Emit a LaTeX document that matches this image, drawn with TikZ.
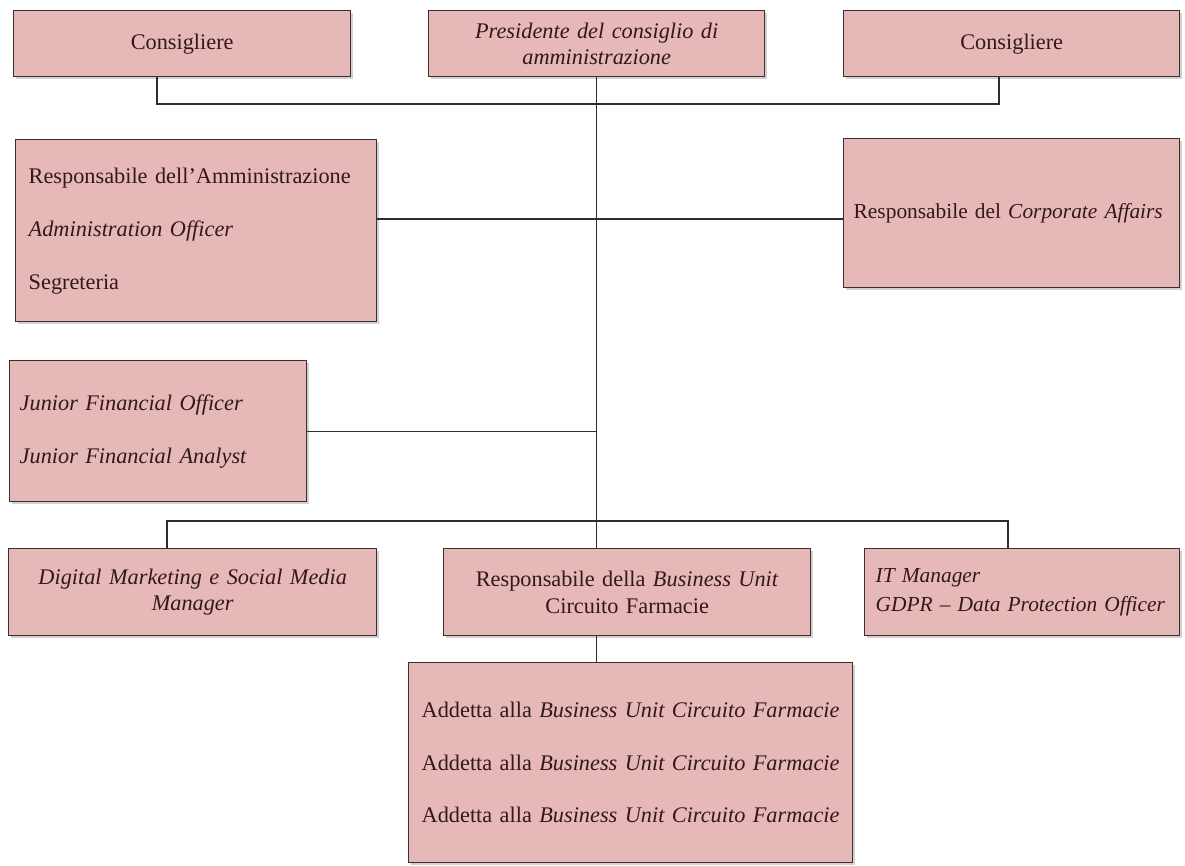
\documentclass[tikz,border=0pt]{standalone}
\usepackage{fontspec}
\setmainfont{Liberation Serif}
\usetikzlibrary{shadows,calc}
\definecolor{boxfill}{HTML}{E6B9B8}
\definecolor{boxline}{HTML}{3A3030}
\definecolor{txtcol}{HTML}{331818}
\definecolor{conncol}{HTML}{2E2E2E}
\begin{document}
\begin{tikzpicture}[x=1pt,y=-1pt,
  orgbox/.style={draw=boxline, fill=boxfill, line width=1.4pt, inner sep=0pt,
    text=txtcol, font=\fontsize{22.3}{26.5}\selectfont, anchor=north west,
    drop shadow={shadow xshift=2pt, shadow yshift=-2.5pt, opacity=0.3, fill=black!60}},
  ctext/.style={align=center},
  ltext/.style={align=left},
  conn/.style={draw=conncol, line width=1.3pt}
]
\useasboundingbox (0,0) rectangle (1185,865);

% top row
\node[orgbox, ctext, minimum width=337pt, minimum height=66pt, text width=337pt] (c1) at (13,10) {Consigliere};
\node[orgbox, ctext, minimum width=336pt, minimum height=66pt, text width=336pt] (pres) at (428,10) {\mbox{\textit{Presidente del consiglio di}}\\\textit{amministrazione}};
\node[orgbox, ctext, minimum width=336pt, minimum height=66pt, text width=336pt] (c2) at (843,10) {Consigliere};

% second row
\node[orgbox, ltext, minimum width=361pt, minimum height=182pt, inner xsep=13pt, text width=335pt] (amm) at (15,139)
  {\mbox{Responsabile dell’Amministrazione}\\[26.5pt]\mbox{\textit{Administration Officer}}\\[26.5pt]Segreteria};
\node[orgbox, ltext, minimum width=336pt, minimum height=149pt, inner xsep=10pt, text width=316pt,
  font=\fontsize{21.4}{26}\selectfont] (corp) at (843,138)
  {\mbox{Responsabile del \textit{Corporate Affairs}}};

% third row
\node[orgbox, ltext, minimum width=297pt, minimum height=141pt, inner xsep=10pt, text width=277pt] (jun) at (9,360)
  {\mbox{\textit{Junior Financial Officer}}\\[26.5pt]\mbox{\textit{Junior Financial Analyst}}};

% fourth row
\node[orgbox, ctext, minimum width=368pt, minimum height=87pt, text width=368pt] (dig) at (8,548)
  {\mbox{\textit{Digital Marketing e Social Media}}\\\textit{Manager}};
\node[orgbox, ctext, minimum width=367pt, minimum height=87pt, text width=367pt] (bu) at (443,548)
  {\mbox{Responsabile della \textit{Business Unit}}\\Circuito Farmacie};
\node[orgbox, ltext, minimum width=315pt, minimum height=87pt, inner xsep=11pt, text width=293pt,
  font=\fontsize{21.4}{26}\selectfont] (it) at (864,548)
  {\textit{IT Manager}\\[3pt]\mbox{\textit{GDPR – Data Protection Officer}}};

% bottom
\node[orgbox, ltext, minimum width=444pt, minimum height=200pt, inner xsep=13pt, text width=418pt] (add) at (408,662)
  {\mbox{Addetta alla \textit{Business Unit Circuito Farmacie}}\\[26pt]\mbox{Addetta alla \textit{Business Unit Circuito Farmacie}}\\[26pt]\mbox{Addetta alla \textit{Business Unit Circuito Farmacie}}};

% junctions
\coordinate (j1) at (157,104);
\coordinate (j2) at (999,104);
\coordinate (h2) at (597,219);
\coordinate (h3) at (167,521);
\coordinate (h4) at (1008,521);

% connectors
\draw[conn] (c1.south -| j1) -- (j1) -- (j2) -- (c2.south -| j2);
\draw[conn] (pres.south) -- (pres.south |- bu.north);
\draw[conn] (amm.east |- h2) -- (corp.west |- h2);
\draw[conn] (jun.east) -- (jun.east -| pres.south);
\draw[conn] (dig.north -| h3) -- (h3) -- (h4) -- (it.north -| h4);
\draw[conn] (bu.south -| pres.south) -- (add.north -| pres.south);
\end{tikzpicture}
\end{document}
